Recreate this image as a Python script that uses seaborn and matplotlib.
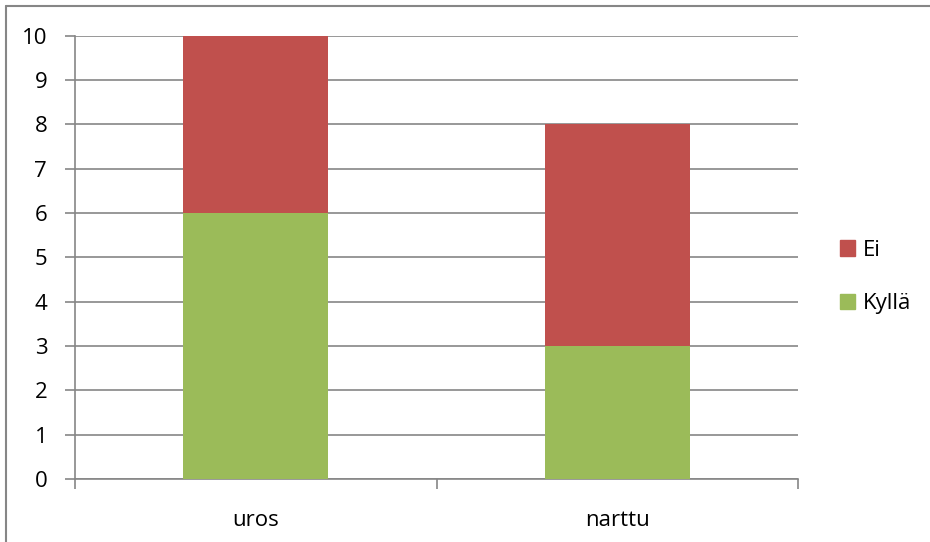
import pandas as pd
import seaborn as sns
import matplotlib.pyplot as plt
from matplotlib.lines import Line2D
from matplotlib.patches import Patch

# data
categories = ['uros', 'narttu']
kylla = [6, 3]
ei = [4, 5]

red = '#C0504D'
green = '#9BBB59'
grey = '#868686'

sns.set_style('white')
plt.rcParams['font.family'] = ['Open Sans', 'DejaVu Sans']

df = pd.DataFrame({'sukupuoli': categories, 'Kyllä': kylla, 'Ei': ei})
df['total'] = df['Kyllä'] + df['Ei']

fig = plt.figure(figsize=(9.3, 5.42), dpi=100)
ax = fig.add_axes([75 / 930, 1 - 479 / 542, (798 - 75) / 930, (479 - 35.5) / 542])

sns.barplot(data=df, x='sukupuoli', y='total', color=red, width=0.4,
            saturation=1, linewidth=0, ax=ax, zorder=3)
sns.barplot(data=df, x='sukupuoli', y='Kyllä', color=green, width=0.4,
            saturation=1, linewidth=0, ax=ax, zorder=3)

ax.set_ylim(0, 10)
ax.set_xlim(-0.5, 1.5)
ax.set_yticks(range(0, 11))
ax.yaxis.grid(True, color=grey, linewidth=1.2, zorder=0)
ax.set_axisbelow(True)
ax.set_xlabel('')
ax.set_ylabel('')

for s in ['top', 'right']:
    ax.spines[s].set_visible(False)
for s in ['left', 'bottom']:
    ax.spines[s].set_color(grey)
    ax.spines[s].set_linewidth(1.2)

ax.tick_params(axis='y', length=7, width=1.2, color=grey, pad=13,
               labelsize=16, labelcolor='black', left=True)
ax.tick_params(axis='x', length=0, pad=22, labelsize=16, labelcolor='black')
# category boundary ticks
ax.set_xticks([-0.5, 0.5, 1.5], minor=True)
ax.tick_params(axis='x', which='minor', length=7, width=1.2, color=grey,
               bottom=True, direction='out')

handles = [Patch(color=red, label='Ei'), Patch(color=green, label='Kyllä')]
fig.legend(handles=handles, loc='center left', bbox_to_anchor=(831 / 930, 1 - 277 / 542),
           frameon=False, fontsize=16, labelcolor='black', handlelength=0.7,
           handleheight=0.7, handletextpad=0.35, labelspacing=1.45, borderaxespad=0)

# outer chart border (top and left visible)
fig.add_artist(Line2D([6 / 930, 1], [1 - 6 / 542, 1 - 6 / 542], transform=fig.transFigure,
                      color=grey, linewidth=1.5))
fig.add_artist(Line2D([6 / 930, 6 / 930], [0, 1 - 6 / 542], transform=fig.transFigure,
                      color=grey, linewidth=1.5))

fig.savefig('out.png', dpi=100)
